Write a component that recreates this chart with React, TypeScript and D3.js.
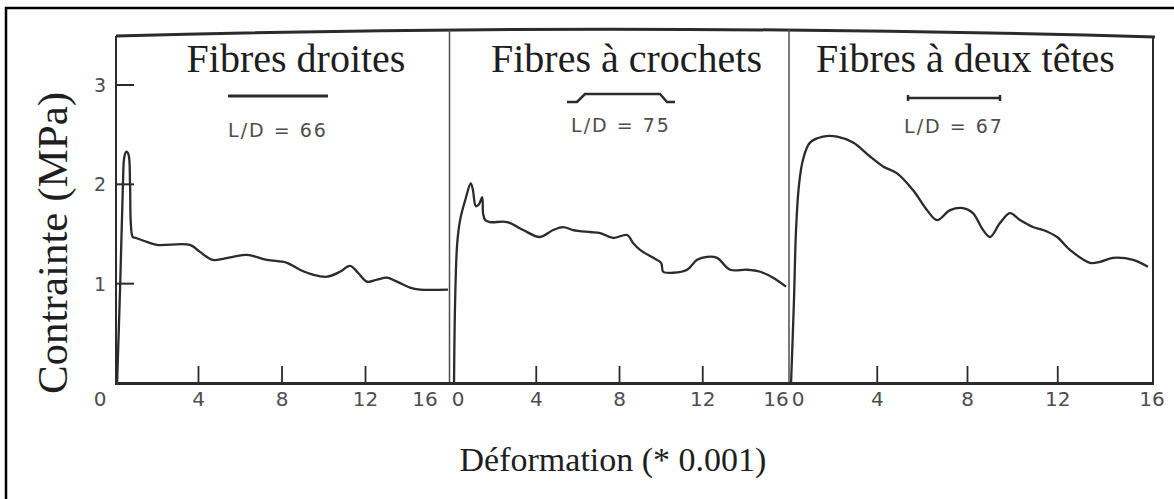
import React from "react";
import * as d3 from "d3";

// values (strain in 1e-3, stress in MPa)
const droitesStrain = [0.1, 0.25, 0.38, 0.45, 0.55, 0.65, 0.72, 0.76, 0.85, 1.0, 1.53, 2.01, 3.59, 4.07, 4.69, 5.65, 6.32, 7.28, 8.24, 8.86, 9.49, 10.16, 10.78, 11.26, 11.64, 12.07, 12.55, 13.03, 13.51, 14.13, 14.61, 15.95];
const droitesStress = [0, 1.0, 2.0, 2.28, 2.33, 2.3, 2.0, 1.6, 1.47, 1.46, 1.42, 1.39, 1.39, 1.32, 1.24, 1.27, 1.29, 1.24, 1.21, 1.14, 1.09, 1.07, 1.12, 1.18, 1.11, 1.02, 1.04, 1.06, 1.02, 0.96, 0.94, 0.94];

const crochetsStrain = [0.05, 0.1, 0.2, 0.35, 0.6, 0.85, 0.95, 1.1, 1.25, 1.4, 1.45, 1.55, 1.78, 2.6, 3.37, 4.18, 4.81, 5.29, 5.77, 6.59, 7.07, 7.69, 8.37, 8.65, 8.99, 9.62, 10.0, 10.1, 10.58, 11.25, 11.73, 12.21, 12.69, 13.32, 14.13, 14.76, 15.38, 16.0];
const crochetsStress = [0, 0.8, 1.4, 1.65, 1.85, 2.01, 1.95, 1.78, 1.8, 1.87, 1.7, 1.64, 1.62, 1.62, 1.54, 1.47, 1.54, 1.57, 1.54, 1.52, 1.51, 1.46, 1.49, 1.41, 1.34, 1.26, 1.21, 1.12, 1.11, 1.14, 1.24, 1.27, 1.26, 1.14, 1.14, 1.12, 1.06, 0.97];

const deuxTetesStrain = [0.18, 0.31, 0.4, 0.53, 0.71, 1.02, 1.6, 2.22, 2.93, 3.68, 4.26, 4.88, 5.59, 6.21, 6.65, 7.23, 7.8, 8.24, 8.69, 9.0, 9.44, 9.88, 10.33, 10.9, 11.35, 11.97, 12.54, 13.43, 13.87, 14.45, 15.34, 16.0];
const deuxTetesStress = [0, 0.84, 1.54, 1.99, 2.25, 2.42, 2.48, 2.48, 2.42, 2.28, 2.18, 2.11, 1.94, 1.74, 1.64, 1.74, 1.76, 1.71, 1.54, 1.47, 1.61, 1.71, 1.64, 1.57, 1.54, 1.47, 1.34, 1.21, 1.22, 1.26, 1.24, 1.17];

const panelTitles = ["Fibres droites", "Fibres à crochets", "Fibres à deux têtes"];
const ldLabels = ["L/D = 66", "L/D = 75", "L/D = 67"];
const xTicks = [0, 4, 8, 12, 16];
const xTickLabels = ["0", "4", "8", "12", "16"];
const yTicks = [1, 2, 3];
const yTickLabels = ["1", "2", "3"];

const W = 1174;
const H = 499;
const ink = "#2b2b2b";
const grey = "#4d4d4d";

const y = d3.scaleLinear().domain([0, 3]).range([383, 85]);

const panels = [
  { strain: droitesStrain, stress: droitesStress, range: [115, 449], labelShift: [-15, -24], legendX: 278, legendY: 96, ldY: 137 },
  { strain: crochetsStrain, stress: crochetsStress, range: [453, 786], labelShift: [5, -10], legendX: 621, legendY: 98, ldY: 132 },
  { strain: deuxTetesStrain, stress: deuxTetesStress, range: [787, 1148], labelShift: [11, 4], legendX: 954, legendY: 98, ldY: 133 },
];

function FibreSymbol({ kind, cx, cy }: { kind: number; cx: number; cy: number }) {
  if (kind === 0) {
    return <line x1={cx - 50} x2={cx + 50} y1={cy} y2={cy} stroke={ink} strokeWidth={3} />;
  }
  if (kind === 1) {
    const p = d3.path();
    p.moveTo(cx - 54, cy + 4);
    p.lineTo(cx - 44, cy + 4);
    p.lineTo(cx - 36, cy - 4);
    p.lineTo(cx + 39, cy - 4);
    p.lineTo(cx + 46, cy + 4);
    p.lineTo(cx + 54, cy + 4);
    return <path d={p.toString()} fill="none" stroke={ink} strokeWidth={2.5} />;
  }
  return (
    <g stroke={ink}>
      <line x1={cx - 46} x2={cx + 46} y1={cy} y2={cy} strokeWidth={2.5} />
      <line x1={cx - 46} x2={cx - 46} y1={cy - 3} y2={cy + 3} strokeWidth={2.5} />
      <line x1={cx + 46} x2={cx + 46} y1={cy - 3} y2={cy + 3} strokeWidth={2.5} />
    </g>
  );
}

export default function App() {
  const frame = d3.path();
  frame.moveTo(116, 36);
  frame.quadraticCurveTo(620, 22, 1155, 37);

  return (
    <svg width={W} height={H} style={{ position: "absolute", left: 0, top: 0, background: "#fff" }}>
      <rect x={0} y={0} width={W} height={H} fill="#fff" />
      <rect x={6} y={8} width={1200} height={600} fill="none" stroke="#000" strokeWidth={2.5} />

      {/* plot frame */}
      <path d={frame.toString()} fill="none" stroke={ink} strokeWidth={3} />
      <line x1={116} x2={116} y1={36} y2={384} stroke={ink} strokeWidth={2} />
      <line x1={449.5} x2={449.5} y1={30} y2={384} stroke={grey} strokeWidth={1.5} />
      <line x1={789} x2={789} y1={29} y2={384} stroke={grey} strokeWidth={1.5} />
      <line x1={1153} x2={1153} y1={37} y2={384} stroke={ink} strokeWidth={2} />
      <line x1={115} x2={1154} y1={383.5} y2={383.5} stroke={ink} strokeWidth={3} />

      {/* y axis */}
      {yTicks.map((t, i) => (
        <g key={"y" + t}>
          <line x1={116} x2={134} y1={y(t)} y2={y(t)} stroke={ink} strokeWidth={2} />
          <text x={106} y={y(t)} dy="0.36em" textAnchor="end" fontFamily="DejaVu Sans" fontSize={19} fill={grey}>
            {yTickLabels[i]}
          </text>
        </g>
      ))}

      {panels.map((p, pi) => {
        const x = d3.scaleLinear().domain([0, 16]).range(p.range);
        const pts = p.strain.map((s, i) => [x(s), y(p.stress[i])] as [number, number]);
        const line = d3.line().curve(d3.curveCatmullRom.alpha(0.5));
        return (
          <g key={pi}>
            {xTicks.map((t, i) => {
              const shift = t === 0 ? p.labelShift[0] : t === 16 ? p.labelShift[1] : 0;
              return (
                <g key={t}>
                  {t > 0 && t < 16 && (
                    <line x1={x(t)} x2={x(t)} y1={383} y2={366} stroke={ink} strokeWidth={1.8} />
                  )}
                  <text x={x(t) + shift} y={406} textAnchor="middle" fontFamily="DejaVu Sans" fontSize={20} fill={grey}>
                    {xTickLabels[i]}
                  </text>
                </g>
              );
            })}
            <path d={line(pts) ?? ""} fill="none" stroke={ink} strokeWidth={2.3} strokeLinejoin="round" />
            <text x={(p.range[0] + p.range[1]) / 2 + (pi === 0 ? 14 : pi === 1 ? 7 : -2)} y={72} textAnchor="middle" fontFamily="Liberation Serif" fontSize={40} fill="#1e1e1e">
              {panelTitles[pi]}
            </text>
            <FibreSymbol kind={pi} cx={p.legendX} cy={p.legendY} />
            <text x={p.legendX} y={p.ldY} textAnchor="middle" fontFamily="DejaVu Sans" fontSize={19} letterSpacing={2} fill={grey}>
              {ldLabels[pi]}
            </text>
          </g>
        );
      })}

      <text transform="translate(67,243) rotate(-90)" textAnchor="middle" fontFamily="Liberation Serif" fontSize={43} fill="#1e1e1e">
        Contrainte (MPa)
      </text>
      <text x={613} y={471} textAnchor="middle" fontFamily="Liberation Serif" fontSize={34} fill="#1e1e1e">
        Déformation (* 0.001)
      </text>
    </svg>
  );
}
